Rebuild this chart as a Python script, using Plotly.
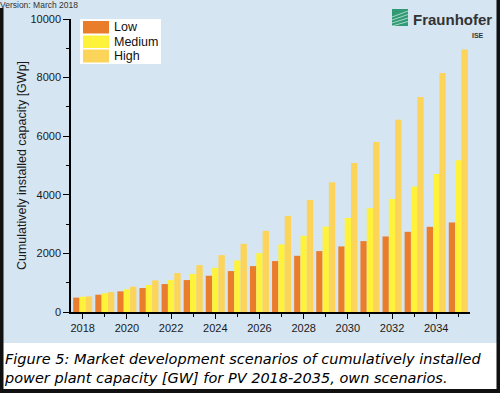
import plotly.graph_objects as go

# ---------------- data ----------------
years = list(range(2018, 2036))
low = [490, 590, 705, 818, 954, 1090, 1237, 1397, 1567, 1738, 1918, 2078,
       2238, 2419, 2578, 2737, 2907, 3056]
medium = [520, 637, 773, 920, 1090, 1300, 1509, 1761, 2010, 2307, 2600, 2915,
          3213, 3543, 3860, 4283, 4712, 5179]
high = [535, 681, 862, 1080, 1329, 1601, 1942, 2327, 2770, 3281, 3826, 4430,
        5087, 5802, 6565, 7336, 8154, 8961]
series_names = ["Low", "Medium", "High"]
x_ticks = [2018, 2020, 2022, 2024, 2026, 2028, 2030, 2032, 2034]
x_ticklabels = [str(v) for v in x_ticks]
y_ticks = [0, 2000, 4000, 6000, 8000, 10000]
y_ticklabels = [str(v) for v in y_ticks]
y_minor = [1000, 3000, 5000, 7000, 9000]
grid_vals = [2000, 4000, 6000, 8000]
y_title = "Cumulatively installed capacity [GWp]"
version_text = "Version: March 2018"
caption_lines = ["Figure 5: Market development scenarios of cumulatively installed",
                 "power plant capacity [GW] for PV 2018-2035, own scenarios."]

# ---------------- styling ----------------
colors = ["#e97d2c", "#fff23a", "#fcd45a"]
BG = "#d5e5f2"
W, H = 500, 393
L, R, T, B = 71, 30, 19, 81
PW, PH = W - L - R, H - T - B


def px(x):
    return (x - L) / PW


def py(y):
    return (H - B - y) / PH


fig = go.Figure()
for name, vals, col in zip(series_names, [low, medium, high], colors):
    fig.add_trace(go.Bar(x=years, y=vals, name=name, marker_color=col,
                         marker_line_width=0, showlegend=False))

shapes = []
annotations = []

# caption white area and dark frame
shapes.append(dict(type="rect", xref="paper", yref="paper", x0=px(3), x1=px(497),
                   y0=py(343), y1=py(389), fillcolor="white", line_width=0, layer="below"))
for (x0, x1, y0, y1) in [(0, 3.5, 8, 393), (496.5, 500, 0, 393), (0, 500, 389, 393)]:
    shapes.append(dict(type="rect", xref="paper", yref="paper", x0=px(x0), x1=px(x1),
                       y0=py(y0), y1=py(y1), fillcolor="#111111", line_width=0))

# legend box
shapes.append(dict(type="rect", xref="paper", yref="paper", x0=px(80), x1=px(161),
                   y0=py(19), y1=py(64), fillcolor="white", line_width=0))
sw_rows = [(21, 33.5), (35.5, 48), (49.5, 62.5)]
for (y0, y1), name, col in zip(sw_rows, series_names, colors):
    shapes.append(dict(type="rect", xref="paper", yref="paper", x0=px(83), x1=px(109),
                       y0=py(y0), y1=py(y1), fillcolor=col, line_width=0))
    annotations.append(dict(xref="paper", yref="paper", x=px(112), y=py((y0 + y1) / 2),
                            text=name, showarrow=False, xanchor="left", yanchor="middle",
                            font=dict(family="Liberation Sans", size=12.5, color="#111111")))

# Fraunhofer logo
shapes.append(dict(type="rect", xref="paper", yref="paper", x0=px(392), x1=px(408),
                   y0=py(9), y1=py(26), fillcolor="#2f9a74", line_width=0))
for k in range(4):
    shapes.append(dict(type="line", xref="paper", yref="paper",
                       x0=px(392), y0=py(17 + k * 3), x1=px(408), y1=py(11 + k * 3.5),
                       line=dict(color="rgba(255,255,255,0.75)", width=0.8)))
annotations.append(dict(xref="paper", yref="paper", x=px(411), y=py(19),
                        text="<b>Fraunhofer</b>", showarrow=False, xanchor="left",
                        yanchor="middle",
                        font=dict(family="Liberation Sans", size=15, color="#333333")))
annotations.append(dict(xref="paper", yref="paper", x=px(486), y=py(35),
                        text="<b>ISE</b>", showarrow=False, xanchor="right",
                        yanchor="middle",
                        font=dict(family="Liberation Sans", size=7, color="#333333")))

# version text
annotations.append(dict(xref="paper", yref="paper", x=px(-2), y=py(4.5),
                        text=version_text, showarrow=False, xanchor="left",
                        yanchor="middle",
                        font=dict(family="Liberation Sans", size=8.5, color="#333333")))

# caption
annotations.append(dict(xref="paper", yref="paper", x=px(2), y=py(368),
                        text="<i>" + "<br>".join(caption_lines) + "</i>",
                        showarrow=False, xanchor="left", yanchor="middle", align="left",
                        font=dict(family="DejaVu Sans", size=14.5, color="#000000")))

fig.update_layout(
    width=W, height=H,
    margin=dict(l=L, r=R, t=T, b=B, pad=0),
    paper_bgcolor=BG, plot_bgcolor=BG,
    barmode="group", bargap=0.14, bargroupgap=0,
    font=dict(family="Liberation Sans", size=11, color="#1a1a1a"),
    shapes=shapes, annotations=annotations,
    xaxis=dict(range=[2017.47, 2035.53], tickmode="array", tickvals=x_ticks,
               ticktext=x_ticklabels, ticks="outside", ticklen=5, tickwidth=1,
               tickcolor="black", showline=True, linecolor="black", linewidth=1.5,
               showgrid=False, zeroline=False,
               minor=dict(tickmode="array", tickvals=years, ticks="outside",
                          ticklen=3, tickcolor="black", showgrid=False)),
    yaxis=dict(range=[0, 10000], tickmode="array", tickvals=y_ticks,
               ticktext=y_ticklabels, ticks="outside", ticklen=6, tickwidth=1,
               tickcolor="black", showline=True, linecolor="black", linewidth=1.5,
               showgrid=False, zeroline=False,
               minor=dict(tickmode="array", tickvals=y_minor, ticks="outside",
                          ticklen=3, tickcolor="black", showgrid=False),
               title=dict(text=y_title, standoff=1,
                          font=dict(family="Liberation Sans", size=12.5, color="#1a1a1a"))),
    yaxis2=dict(range=[0, 10000], overlaying="y", anchor="x", tickmode="array",
                tickvals=grid_vals, showticklabels=False, ticks="", showline=False,
                showgrid=True, gridcolor="#9aa2aa", gridwidth=1, griddash="3px,3px",
                zeroline=False),
)

fig.write_html("out.html", config={"displayModeBar": False},
               post_script="document.body.style.margin='0px';")
